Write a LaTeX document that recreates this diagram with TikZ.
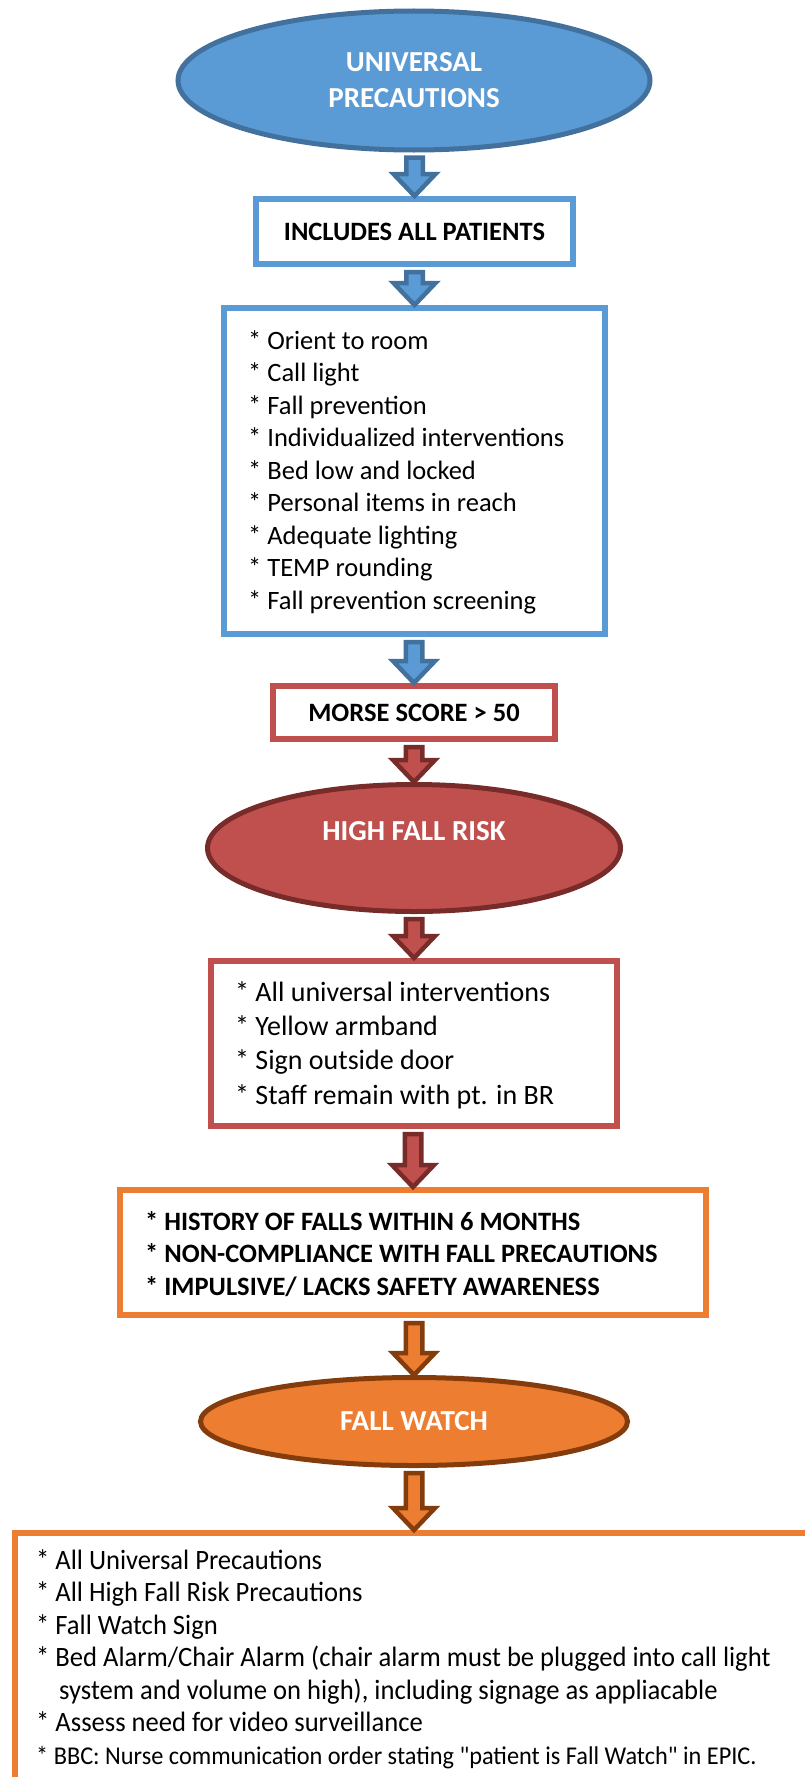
\documentclass[tikz,border=0pt]{standalone}
\usepackage{fontspec}
\setmainfont{Carlito}
\newfontfamily\condfont[FakeStretch=0.95]{Carlito}
\usetikzlibrary{shapes.geometric,calc}
\definecolor{bluefill}{HTML}{5B9BD5}
\definecolor{bluedark}{HTML}{41719C}
\definecolor{redfill}{HTML}{C0504D}
\definecolor{reddark}{HTML}{772C2A}
\definecolor{orfill}{HTML}{ED7D31}
\definecolor{ordark}{HTML}{843C0C}
\tikzset{
  oval/.style={ellipse, line width=5pt, inner sep=0pt, text=white,
    font=\fontsize{29}{36}\selectfont\bfseries, align=center},
  frame/.style={rectangle, line width=6pt, fill=white, inner sep=0pt},
  listtext/.style={inner sep=0pt, align=left, anchor=west},
  barrow/.style={line width=4.5pt, line join=miter},
  bluearr/.style={barrow, draw=bluedark, fill=bluefill},
  redarr/.style={barrow, draw=reddark, fill=redfill},
  orarr/.style={barrow, draw=ordark, fill=orfill},
}
\newcommand{\blockarrow}[3]{%
  \draw[#3] let \p1=($(#1)+(0,5)$), \p2=(#2) in
  (\x2-8.25pt,\y1) -- (\x2+8.25pt,\y1) -- (\x2+8.25pt,\y2+22pt) -- (\x2+21pt,\y2+22pt)
  -- (\x2,\y2) -- (\x2-21pt,\y2+22pt) -- (\x2-8.25pt,\y2+22pt) -- cycle;}
\begin{document}
\begin{tikzpicture}[x=1pt,y=-1pt]
\useasboundingbox (0,0) rectangle (805,1777);
\clip (0,0) rectangle (805,1777);
\fill[white] (0,0) rectangle (805,1777);

\node[oval, draw=bluedark, fill=bluefill, minimum width=472pt, minimum height=139pt] (E1) at (414,80.5) {UNIVERSAL\\PRECAUTIONS};

\node[frame, draw=bluefill, minimum width=317pt, minimum height=65pt,
  font=\fontsize{26.5}{32.5}\selectfont\bfseries] (B1) at (414.5,231.5) {INCLUDES ALL PATIENTS};

\node[frame, draw=bluefill, minimum width=381pt, minimum height=326pt] (B2) at (414.5,471) {};
\node[listtext, font=\fontsize{26.5}{32.5}\selectfont] (T2) at (248,472) {* Orient to room\\* Call light\\* Fall prevention\\* Individualized interventions\\* Bed low and locked\\* Personal items in reach\\* Adequate lighting\\* TEMP rounding\\* Fall prevention screening};

\node[frame, draw=redfill, minimum width=282pt, minimum height=53pt,
  font=\fontsize{26.5}{32.5}\selectfont\bfseries] (M) at (414,712.5) {MORSE SCORE > 50};

\node[oval, draw=reddark, fill=redfill, minimum width=413pt, minimum height=127pt,
  text height=19pt, text depth=35pt] (E2) at (414,848) {HIGH FALL RISK};

\node[frame, draw=redfill, minimum width=406pt, minimum height=165pt] (B3) at (414,1043.5) {};
\node[listtext, font=\fontsize{28}{34.3}\selectfont] (T3) at (235,1045) {* All universal interventions\\* Yellow armband\\* Sign outside door\\* Staff remain with pt. in BR};

\node[frame, draw=orfill, minimum width=586pt, minimum height=125pt] (B4) at (413,1252.5) {};
\node[listtext, font=\fontsize{26.5}{32.5}\selectfont\bfseries] (T4) at (145,1254) {* HISTORY OF FALLS WITHIN 6 MONTHS\\* NON-COMPLIANCE WITH FALL PRECAUTIONS\\* IMPULSIVE/ LACKS SAFETY AWARENESS};

\node[oval, draw=ordark, fill=orfill, minimum width=427pt, minimum height=88pt] (E3) at (414,1421.5) {FALL WATCH};

\node[frame, draw=orfill, anchor=north west, minimum width=1000pt, minimum height=400pt] (B5) at (12,1530) {};
\coordinate (B5top) at (414,1530);
\node[listtext, font=\condfont\fontsize{28}{32.5}\selectfont] (T5) at (36,1659) {* All Universal Precautions\\* All High Fall Risk Precautions\\* Fall Watch Sign\\* Bed Alarm/Chair Alarm (chair alarm must be plugged into call light\\\hspace*{23pt}system and volume on high), including signage as appliacable\\* Assess need for video surveillance\\{\fontsize{25.6}{31}\selectfont * BBC: Nurse communication order stating "patient is Fall Watch" in EPIC.}};

\blockarrow{E1.south}{B1.north}{bluearr}
\blockarrow{B1.south}{B2.north}{bluearr}
\blockarrow{B2.south}{M.north}{bluearr}
\blockarrow{M.south}{E2.north}{redarr}
\blockarrow{E2.south}{B3.north}{redarr}
\blockarrow{B3.south}{B4.north}{redarr}
\blockarrow{B4.south}{E3.north}{orarr}
\blockarrow{E3.south}{B5top}{orarr}
\end{tikzpicture}
\end{document}
